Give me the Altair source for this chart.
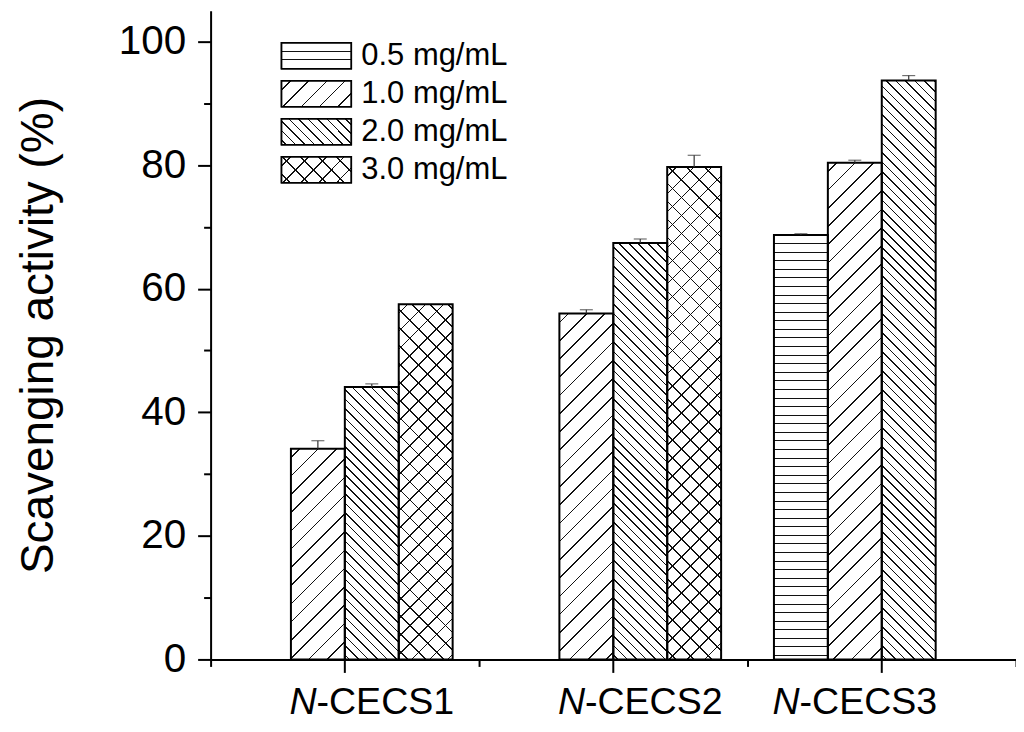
import math
import altair as alt

# ---------------- data ----------------
samples = ["N-CECS1", "N-CECS1", "N-CECS1",
           "N-CECS2", "N-CECS2", "N-CECS2",
           "N-CECS3", "N-CECS3", "N-CECS3"]
concs = ["1.0 mg/mL", "2.0 mg/mL", "3.0 mg/mL",
         "1.0 mg/mL", "2.0 mg/mL", "3.0 mg/mL",
         "0.5 mg/mL", "1.0 mg/mL", "2.0 mg/mL"]
values = [34.1, 44.1, 57.5, 56.0, 67.4, 79.7, 68.7, 80.4, 93.7]
errors = [1.3, 0.5, 0.0, 0.6, 0.65, 1.9, 0.2, 0.4, 0.8]

conc_levels = ["0.5 mg/mL", "1.0 mg/mL", "2.0 mg/mL", "3.0 mg/mL"]
group_names = ["N-CECS1", "N-CECS2", "N-CECS3"]
group_suffix = ["-CECS1", "-CECS2", "-CECS3"]
group_mid = ["2.0 mg/mL", "2.0 mg/mL", "1.0 mg/mL"]
major_ticks = [0, 20, 40, 60, 80, 100]
minor_ticks = [10, 30, 50, 70, 90]

# ---------------- layout / style ----------------
W, H = 807, 650
Y_MAX = 105
SLOT_PAD = 0.49
PPU = H / Y_MAX
SLOT_W = (W / 3) / (4 + 2 * SLOT_PAD)
FONT = "Liberation Sans"
INK = "#111111"
CLEAR = "rgba(255,255,255,0)"
HATCH = {"0.5 mg/mL": ("-", 8.6), "1.0 mg/mL": ("/", 18.3),
         "2.0 mg/mL": ("\\", 9.5), "3.0 mg/mL": ("x", 18.0)}
LEG_W, LEG_H = 70, 26


def stripe_gradient(kind, period, w, h, bg):
    """Linear gradient with hard stops that draws hatch lines inside a w x h box."""
    if kind == "-":
        coords = dict(x1=0, y1=0, x2=0, y2=1)
        span, thick = h, 1.0
        pos = period
    else:
        a = (w + h) / (w * w + h * h)
        if kind == "/":
            coords = dict(x1=0, y1=0, x2=a * w, y2=a * h)
        else:
            coords = dict(x1=0, y1=1, x2=a * w, y2=1 - a * h)
        span, thick = w + h, 1.15 * math.sqrt(2)
        pos = period / 2
    stops = [{"offset": 0, "color": bg}]
    while pos - thick / 2 < span:
        o0 = round(max(0.0, (pos - thick / 2) / span), 5)
        o1 = round(min(1.0, (pos + thick / 2) / span), 5)
        stops += [{"offset": o0, "color": bg}, {"offset": o0, "color": INK},
                  {"offset": o1, "color": INK}, {"offset": o1, "color": bg}]
        pos += period
    stops.append({"offset": 1, "color": bg})
    return {"gradient": "linear", **coords, "stops": stops}


def hatch_fields(conc, w, h):
    kind, per = HATCH[conc]
    rec = {"gA": stripe_gradient("/" if kind == "x" else kind, per, w, h, "white")}
    if kind == "x":
        rec["gB"] = stripe_gradient("\\", per, w, h, CLEAR)
    return rec


bar_rows = []
for s, c, v, e in zip(samples, concs, values, errors):
    row = {"sample": s, "conc": c, "value": v, "upper": v + e, "err": e}
    row.update(hatch_fields(c, SLOT_W, v * PPU))
    bar_rows.append(row)

label_rows = [{"sample": g, "mid": m, "suffix": sfx}
              for g, m, sfx in zip(group_names, group_mid, group_suffix)]

legend_rows = []
for c in conc_levels:
    row = {"conc": c}
    row.update(hatch_fields(c, LEG_W, LEG_H))
    legend_rows.append(row)

bars_data = alt.Data(values=bar_rows)
labels_data = alt.Data(values=label_rows)
legend_data = alt.Data(values=legend_rows)

# ---------------- encodings ----------------
x_scale = alt.Scale(domain=group_names, paddingInner=0, paddingOuter=0)
xo_scale = alt.Scale(domain=conc_levels, paddingInner=0, paddingOuter=SLOT_PAD)
y_scale = alt.Scale(domain=[0, Y_MAX], nice=False, zero=True)

main_x_axis = alt.Axis(orient="bottom", title="", labels=False, tickSize=13, tickWidth=2,
                       tickColor="black", domainColor="black", domainWidth=2, grid=False)
minor_x_axis = alt.Axis(orient="bottom", title="", labels=False, tickBand="extent", tickSize=7,
                        tickWidth=2, tickColor="black", domain=False, grid=False)
main_y_axis = alt.Axis(orient="left", values=major_ticks, title="Scavenging activity (%)",
                       titleFontSize=46, titleFontWeight="normal", titlePadding=56,
                       labelFontSize=40.5, labelPadding=12, tickSize=13, tickWidth=2,
                       tickColor="black", domainColor="black", domainWidth=2, grid=False)
minor_y_axis = alt.Axis(orient="left", values=minor_ticks, title="", labels=False, tickSize=7,
                        tickWidth=2, tickColor="black", domain=False, grid=False)


def X(axis=None):
    return alt.X("sample:N", scale=x_scale, axis=axis, title="")


def XO(field="conc"):
    return alt.XOffset(f"{field}:N", scale=xo_scale)


def Y(field="value", axis=None):
    return alt.Y(f"{field}:Q", scale=y_scale, stack=None, axis=axis, title="")


hatch_a = alt.Chart(bars_data).mark_bar(strokeWidth=0).encode(
    x=X(minor_x_axis), xOffset=XO(), y=Y(axis=minor_y_axis),
    fill=alt.Fill("gA:N", scale=None),
)
hatch_b = alt.Chart(bars_data).transform_filter("datum.gB != null").mark_bar(strokeWidth=0).encode(
    x=X(), xOffset=XO(), y=Y(), fill=alt.Fill("gB:N", scale=None),
)
outline = alt.Chart(bars_data).mark_bar(filled=False, stroke="black", strokeWidth=2).encode(
    x=X(main_x_axis), xOffset=XO(), y=alt.Y("value:Q", scale=y_scale, stack=None, axis=main_y_axis),
)
err_rule = alt.Chart(bars_data).transform_filter("datum.err > 0").mark_rule(
    color="#333333", strokeWidth=1.2).encode(
    x=X(), xOffset=XO(), y=Y(), y2="upper:Q",
)
err_cap = alt.Chart(bars_data).transform_filter("datum.err > 0").mark_tick(
    orient="horizontal", size=13, thickness=1.2, color="#333333").encode(
    x=X(), xOffset=XO(), y=Y("upper"),
)

LABEL_FS = 37.6
JOIN = -1.4725 * LABEL_FS
lab_n = alt.Chart(labels_data).mark_text(
    text="N", font=FONT, fontStyle="italic", fontSize=LABEL_FS, align="right",
    baseline="alphabetic", dx=JOIN, color="black").encode(
    x=X(), xOffset=XO("mid"), y=alt.value(705),
)
lab_rest = alt.Chart(labels_data).mark_text(
    font=FONT, fontSize=LABEL_FS, align="left", baseline="alphabetic", dx=JOIN,
    color="black").encode(
    x=X(), xOffset=XO("mid"), y=alt.value(705), text="suffix:N",
)

plot = alt.layer(hatch_a, hatch_b, outline, err_rule, err_cap, lab_n, lab_rest).resolve_axis(
    x="independent", y="independent")

leg_scale = alt.Scale(domain=conc_levels, range=[26, 178.5], paddingInner=0.316, paddingOuter=0.158)
leg_a = alt.Chart(legend_data).mark_rect(stroke="black", strokeWidth=1.5).encode(
    x=alt.value(71), x2=alt.value(141),
    y=alt.Y("conc:N", scale=leg_scale, axis=None),
    fill=alt.Fill("gA:N", scale=None),
)
leg_b = alt.Chart(legend_data).transform_filter("datum.gB != null").mark_rect(strokeWidth=0).encode(
    x=alt.value(71), x2=alt.value(141),
    y=alt.Y("conc:N", scale=leg_scale, axis=None),
    fill=alt.Fill("gB:N", scale=None),
)
leg_box = alt.Chart(legend_data).mark_rect(filled=False, stroke="black", strokeWidth=1.5).encode(
    x=alt.value(71), x2=alt.value(141),
    y=alt.Y("conc:N", scale=leg_scale, axis=None),
)
leg_text = alt.Chart(legend_data).mark_text(
    font=FONT, fontSize=31, align="left", baseline="middle", color="black").encode(
    x=alt.value(151), y=alt.Y("conc:N", scale=leg_scale, axis=None), text="conc:N",
)
legend = alt.layer(leg_a, leg_b, leg_box, leg_text)

chart = alt.layer(plot, legend).resolve_scale(y="independent").properties(
    width=W, height=H,
    padding={"left": 203, "top": 2, "right": 0, "bottom": 70},
    autosize=alt.AutoSizeParams(type="none"),
).configure(font=FONT).configure_view(strokeWidth=0).configure_axis(
    labelFont=FONT, titleFont=FONT, labelColor="black", titleColor="black")

chart.save("out.html", embed_options={"renderer": "svg", "actions": False})
